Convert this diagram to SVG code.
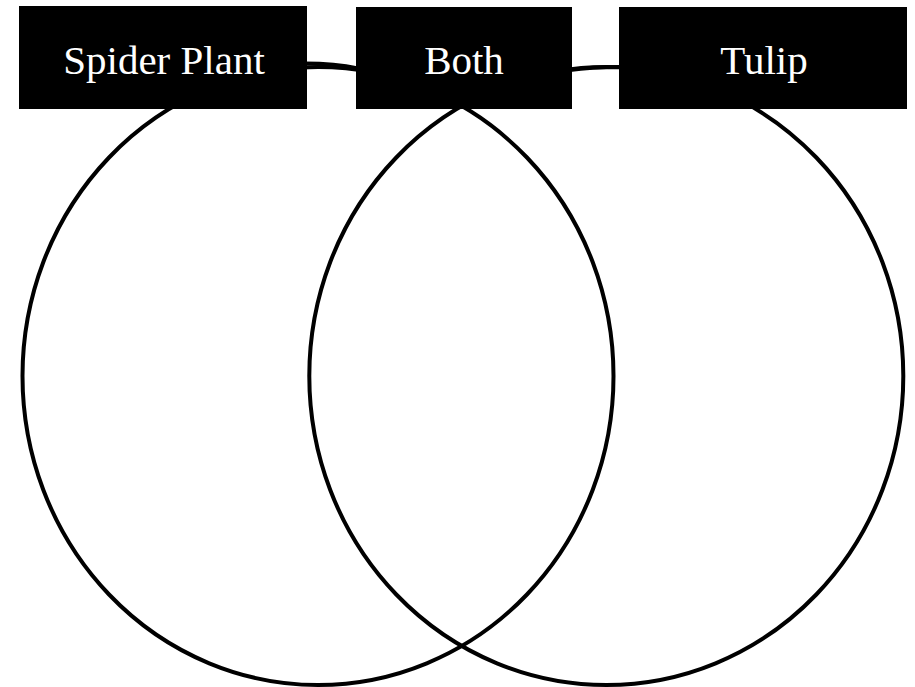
<svg xmlns="http://www.w3.org/2000/svg" width="915" height="687" viewBox="0 0 915 687">
  <style>
    .ring { fill: none; stroke: #000; stroke-width: 4; }
    .link { fill: none; stroke: #000; stroke-width: 4; }
    .box { fill: #000; }
    .label { fill: #fff; font-family: "Liberation Serif", "DejaVu Serif", serif; font-size: 41px; text-anchor: middle; }
  </style>
  <rect width="915" height="687" fill="#fff"/>

  <!-- the two overlapping sets -->
  <g id="sets">
    <ellipse id="set-left" class="ring" cx="318" cy="376" rx="295.5" ry="309"/>
    <ellipse id="set-right" class="ring" cx="606.3" cy="376" rx="297" ry="309"/>
  </g>

  <!-- short joins between the heading boxes -->
  <g id="connectors">
    <path class="link" d="M305 63.5 Q335 63.5 358 68.5"/>
    <path class="link" d="M570 70 Q590 67 621 67"/>
  </g>

  <g id="spider-plant">
    <rect class="box" x="19" y="6" width="288" height="103"/>
    <text class="label" x="164" y="74">Spider Plant</text>
  </g>

  <g id="both">
    <rect class="box" x="356" y="7" width="216" height="102"/>
    <text class="label" x="464" y="74">Both</text>
  </g>

  <g id="tulip">
    <rect class="box" x="619" y="7" width="288" height="102"/>
    <text class="label" x="764" y="74">Tulip</text>
  </g>
</svg>
